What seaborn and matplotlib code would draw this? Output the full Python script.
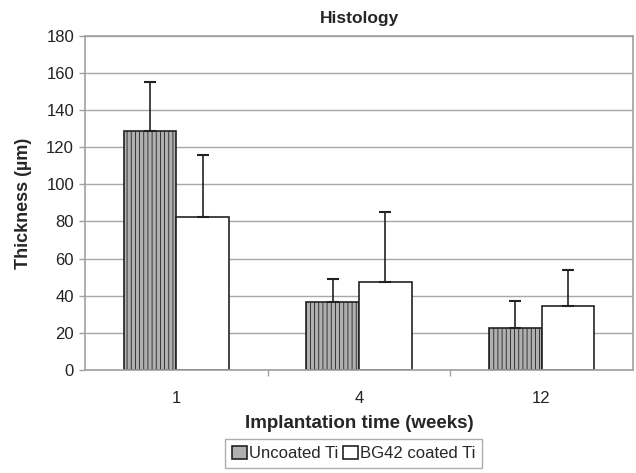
import pandas as pd
import matplotlib
matplotlib.use('Agg')
import matplotlib.pyplot as plt
import seaborn as sns
import numpy as np
from matplotlib.ticker import FixedLocator

weeks = ['1', '4', '12']
groups = ['Uncoated Ti', 'BG42 coated Ti']
uncoated = [128.7, 36.7, 22.7]
uncoated_sd = [26.3, 12.3, 14.3]
bg42 = [82.6, 47.3, 34.3]
bg42_sd = [33.2, 37.7, 19.6]

df = pd.DataFrame({
    'week': weeks * 2,
    'group': [groups[0]] * 3 + [groups[1]] * 3,
    'thickness': uncoated + bg42,
    'sd': uncoated_sd + bg42_sd,
})

sns.set_style('white')
plt.rcParams['font.family'] = ['Liberation Sans', 'DejaVu Sans']
plt.rcParams['hatch.color'] = '#5a5a5a'
plt.rcParams['hatch.linewidth'] = 0.6

fig = plt.figure(figsize=(6.36, 4.73), dpi=100)
ax = fig.add_axes([0.134, 0.218, 0.861, 0.706])

ax.set_axisbelow(True)
ax.yaxis.grid(True, color='#a8a8a8', linewidth=1.0)

sns.barplot(data=df, x='week', y='thickness', hue='group', order=weeks,
            hue_order=groups, palette=['#b0b0b0', 'white'], width=0.58,
            errorbar=None, edgecolor='#222222', linewidth=1.2, ax=ax,
            saturation=1)

# hatch the uncoated bars, then draw upper-only error bars from bar positions
for cont, grp in zip(ax.containers, groups):
    sub = df[df['group'] == grp].set_index('week').loc[weeks]
    for patch in cont.patches:
        if grp == groups[0]:
            patch.set_hatch('||||')
    xs = [p.get_x() + p.get_width() / 2 for p in cont.patches]
    ax.errorbar(xs, sub['thickness'], yerr=[np.zeros(3), sub['sd']],
                fmt='none', ecolor='#222222', elinewidth=1.2, capsize=4,
                capthick=1.5, zorder=1)

ax.set_ylim(0, 180)
ax.set_yticks(range(0, 181, 20))
ax.set_xlim(-0.5, 2.5)
ax.xaxis.set_minor_locator(FixedLocator([0.5, 1.5]))
ax.tick_params(axis='x', which='major', labelsize=12, colors='#222222', length=0, pad=15)
ax.tick_params(axis='x', which='minor', length=4, width=1, color='#a0a0a0', bottom=True)
ax.tick_params(axis='y', labelsize=12, colors='#222222', length=4, width=1,
               color='#a0a0a0', left=True, pad=4)
for s in ax.spines.values():
    s.set_color('#a0a0a0')
    s.set_linewidth(1.2)

ax.set_title('Histology', fontsize=12.5, fontweight='bold', pad=9)
ax.set_xlabel('Implantation time (weeks)', fontsize=13.5, fontweight='bold', labelpad=7)
ax.set_ylabel('Thickness (µm)', fontsize=13, fontweight='bold', labelpad=10)

handles, labels = ax.get_legend_handles_labels()
ax.legend(handles, labels, loc='upper left', bbox_to_anchor=(0.354, 0.072),
          bbox_transform=fig.transFigure, ncol=2, fontsize=12, frameon=True,
          fancybox=False, edgecolor='#999999', handlelength=0.9, handleheight=0.9,
          handletextpad=0.15, columnspacing=0.25, borderpad=0.4, borderaxespad=0)

plt.savefig('out.png', dpi=100)
